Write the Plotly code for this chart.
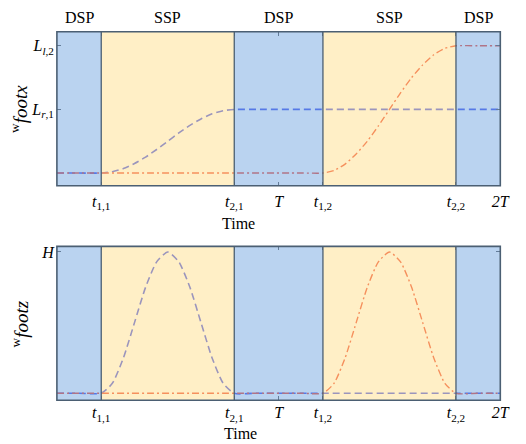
import plotly.graph_objects as go

# ---- data ----
phase_bounds = [0.0, 0.2, 0.8, 1.2, 1.8, 2.0]
phase_labels = ["DSP", "SSP", "DSP", "SSP", "DSP"]

x_tickvals = [0.2, 0.8, 1.0, 1.2, 1.8, 2.0]
x_ticktext = ["<i>t</i><sub>1,1</sub>", "<i>t</i><sub>2,1</sub>", "<i>T</i>",
              "<i>t</i><sub>1,2</sub>", "<i>t</i><sub>2,2</sub>", "<i>2T</i>"]

footx_tickvals = [1.0, 2.0]
footx_ticktext = ["<i>L</i><sub><i>r</i>,1</sub>", "<i>L</i><sub><i>l</i>,2</sub>"]
footz_tickvals = [1.0]
footz_ticktext = ["<i>H</i>"]

time_blue = [0.0, 0.10, 0.20, 0.25, 0.30, 0.35, 0.40, 0.45, 0.50, 0.55, 0.60, 0.65, 0.70, 0.75, 0.80, 0.90, 2.0]
time_red = [0.0, 1.10, 1.20, 1.25, 1.30, 1.35, 1.40, 1.45, 1.50, 1.55, 1.60, 1.65, 1.70, 1.75, 1.80, 1.90, 2.0]

footx_blue = [0, 0, 0, 0.02, 0.07, 0.15, 0.25, 0.37, 0.50, 0.63, 0.75, 0.85, 0.93, 0.98, 1.0, 1.0, 1.0]
footx_red = [0, 0, 0, 0.04, 0.14, 0.30, 0.50, 0.74, 1.00, 1.26, 1.50, 1.70, 1.86, 1.96, 2.0, 2.0, 2.0]
footz_blue = [0, 0, 0, 0.07, 0.25, 0.50, 0.75, 0.93, 1.00, 0.93, 0.75, 0.50, 0.25, 0.07, 0, 0, 0]
footz_red = [0, 0, 0, 0.07, 0.25, 0.50, 0.75, 0.93, 1.00, 0.93, 0.75, 0.50, 0.25, 0.07, 0, 0, 0]

# ---- styling ----
W, H = 526, 444
BLUE_LINE = "rgb(55,75,235)"
RED_LINE = "rgb(235,65,45)"
DSP_FILL = "rgb(118,168,226)"
SSP_FILL = "rgb(255,224,142)"
FRAME = "rgb(75,95,115)"
FONT = "Liberation Serif, 'Liberation Serif', 'DejaVu Serif', serif"

fig = go.Figure()

xd = [58 / W, 510 / W]
yd_top = [1 - 184 / H, 1 - 29 / H]
yd_bot = [1 - 400 / H, 1 - 245 / H]

fig.add_trace(go.Scatter(x=time_blue, y=footx_blue, mode="lines", xaxis="x", yaxis="y",
                         line=dict(color=BLUE_LINE, width=1.6, dash="7px,4px", shape="spline", smoothing=0.6),
                         showlegend=False))
fig.add_trace(go.Scatter(x=time_red, y=footx_red, mode="lines", xaxis="x", yaxis="y",
                         line=dict(color=RED_LINE, width=1.4, dash="7px,3px,2px,3px", shape="spline", smoothing=0.6),
                         showlegend=False))
fig.add_trace(go.Scatter(x=time_blue, y=footz_blue, mode="lines", xaxis="x2", yaxis="y2",
                         line=dict(color=BLUE_LINE, width=1.6, dash="7px,4px", shape="spline", smoothing=0.6),
                         showlegend=False))
fig.add_trace(go.Scatter(x=time_red, y=footz_red, mode="lines", xaxis="x2", yaxis="y2",
                         line=dict(color=RED_LINE, width=1.4, dash="7px,3px,2px,3px", shape="spline", smoothing=0.6),
                         showlegend=False))

shapes = []
for xr, yr in (("x", "y"), ("x2", "y2")):
    for i, lab in enumerate(phase_labels):
        shapes.append(dict(type="rect", xref=xr, yref=yr + " domain",
                           x0=phase_bounds[i], x1=phase_bounds[i + 1], y0=0, y1=1,
                           fillcolor=DSP_FILL if lab == "DSP" else SSP_FILL,
                           opacity=0.5, line=dict(width=0), layer="above"))
    for b in phase_bounds[1:-1]:
        shapes.append(dict(type="line", xref=xr, yref=yr + " domain",
                           x0=b, x1=b, y0=0, y1=1,
                           line=dict(color=FRAME, width=1.3), layer="above"))
    shapes.append(dict(type="rect", xref=xr + " domain", yref=yr + " domain",
                       x0=0, x1=1, y0=0, y1=1,
                       line=dict(color=FRAME, width=1.6), layer="above"))

txt_font = dict(family=FONT, size=16, color="black")
annotations = []
for i, lab in enumerate(phase_labels):
    annotations.append(dict(x=(phase_bounds[i] + phase_bounds[i + 1]) / 2, xref="x",
                            y=1 - 15 / H, yref="paper", text=lab, showarrow=False,
                            xanchor="center", yanchor="middle", font=txt_font))
annotations.append(dict(x=243 / W, y=1 - 222 / H, xref="paper", yref="paper", text="Time",
                        showarrow=False, xanchor="center", yanchor="middle", font=txt_font))
annotations.append(dict(x=245 / W, y=1 - 433 / H, xref="paper", yref="paper", text="Time",
                        showarrow=False, xanchor="center", yanchor="middle", font=txt_font))
annotations.append(dict(x=20 / W, y=1 - 107 / H, xref="paper", yref="paper", textangle=-90,
                        text="<sup>w</sup><i>footx</i>", showarrow=False,
                        xanchor="center", yanchor="middle",
                        font=dict(family=FONT, size=19, color="black")))
annotations.append(dict(x=20 / W, y=1 - 323 / H, xref="paper", yref="paper", textangle=-90,
                        text="<sup>w</sup><i>footz</i>", showarrow=False,
                        xanchor="center", yanchor="middle",
                        font=dict(family=FONT, size=19, color="black")))

xaxis_common = dict(range=[0, 2], tickmode="array", tickvals=x_tickvals, ticktext=x_ticktext,
                    ticks="inside", ticklen=4, tickcolor="rgb(80,80,80)", mirror="ticks",
                    showgrid=False, zeroline=False, showline=False,
                    tickfont=dict(family=FONT, size=16, color="black"), domain=xd)
yaxis_common = dict(ticks="inside", ticklen=4, tickcolor="rgb(80,80,80)", mirror="ticks",
                    showgrid=False, zeroline=False, showline=False, ticklabelstandoff=2,
                    tickfont=dict(family=FONT, size=16, color="black"), tickmode="array")

fig.update_layout(
    width=W, height=H, margin=dict(l=0, r=0, t=0, b=0),
    paper_bgcolor="white", plot_bgcolor="white", showlegend=False,
    xaxis=dict(**xaxis_common, anchor="y", ticklabelstandoff=4),
    xaxis2=dict(**xaxis_common, anchor="y2", ticklabelstandoff=1),
    yaxis=dict(**yaxis_common, range=[-0.2, 2.22], tickvals=footx_tickvals,
               ticktext=footx_ticktext, domain=yd_top, anchor="x"),
    yaxis2=dict(**yaxis_common, range=[-0.05, 1.04], tickvals=footz_tickvals,
                ticktext=footz_ticktext, domain=yd_bot, anchor="x2"),
    shapes=shapes, annotations=annotations,
)

fig.write_html("out.html")
